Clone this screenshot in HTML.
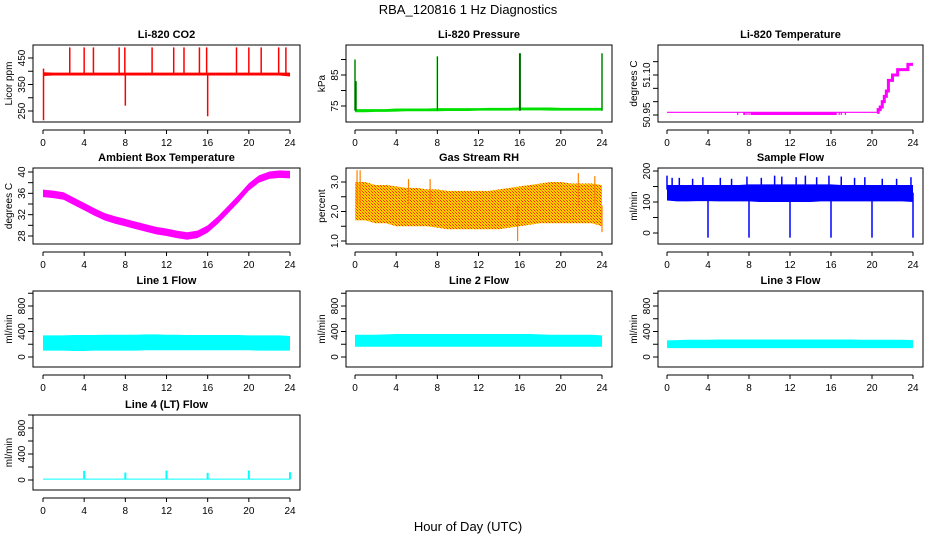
<!DOCTYPE html>
<html><head><meta charset="utf-8"><style>
html,body{margin:0;padding:0;background:#fff;}
svg{display:block;font-family:"Liberation Sans",sans-serif;}
</style></head><body>
<svg id="chart" width="936" height="540" viewBox="0 0 936 540">
<defs>
<pattern id="rhpat" width="3" height="3" patternUnits="userSpaceOnUse">
<rect width="3" height="3" fill="#ffd000"/><rect x="0" y="0" width="1" height="1" fill="#ff2000"/><rect x="2" y="2" width="1" height="1" fill="#ff4000"/><rect x="1" y="1" width="1" height="1" fill="#ff9000"/>
</pattern>
</defs>
<text x="468" y="14" text-anchor="middle" font-size="13">RBA_120816  1 Hz Diagnostics</text>
<text x="468" y="531" text-anchor="middle" font-size="13">Hour of Day (UTC)</text>
</svg>
<script>
// ---- data ----
const xTicks = [0,4,8,12,16,20,24];
const hours = [0,1,2,3,4,5,6,7,8,9,10,11,12,13,14,15,16,17,18,19,20,21,22,23,24];

const co2Low  = [382,384,384,384,384,384,384,384,384,384,384,384,384,384,384,384,384,384,384,384,384,384,384,384,380];
const co2High = [396,395,395,395,395,395,395,395,395,395,395,395,395,395,395,395,395,395,395,395,395,395,395,395,395];
const co2SpikeHours = [0.05,0.05,2.6,4,4.9,7.4,7.95,8,10.6,12.7,13.7,15.2,15.9,16,18.8,20,21.2,22.9,23.6];
const co2SpikeVals  = [215,410,490,490,490,490,490,270,490,490,490,490,490,230,490,490,490,490,490];

const presLow  = [73.0,73.0,73.1,73.1,73.2,73.3,73.3,73.3,73.3,73.4,73.4,73.4,73.5,73.5,73.5,73.5,73.6,73.6,73.6,73.5,73.5,73.5,73.5,73.5,73.5];
const presHigh = [74.0,74.0,74.0,74.0,74.2,74.2,74.2,74.2,74.3,74.3,74.3,74.3,74.3,74.4,74.4,74.4,74.5,74.5,74.5,74.5,74.4,74.4,74.4,74.4,74.4];
const presSpikeHours = [0,0.1,8,16,16.05,24];
const presSpikeVals  = [90,83,91,92,92,92];

const tempStepHours = [0,20.5,20.6,20.8,21.0,21.2,21.4,21.6,22.0,22.5,23.0,23.5,24];
const tempStepVals  = [50.96,50.96,50.97,50.98,51.00,51.02,51.04,51.08,51.10,51.12,51.12,51.14,51.14];
const tempDipHours = [6.9,7.5,7.6,7.8,8.0,8.2,9,10,11,12,13,14,15,16,16.5,16.8,17.0,17.4];
const tempDipVals  = [50.95,50.95,50.95,50.95,50.95,50.95,50.95,50.95,50.95,50.95,50.95,50.95,50.95,50.95,50.95,50.95,50.95,50.95];

const ambMid = [36,35.8,35.5,34.5,33.5,32.5,31.6,31,30.5,30,29.5,29,28.7,28.3,28,28.3,29.3,31,33,35,37.2,38.7,39.4,39.6,39.5];

const rhLow  = [1.7,1.7,1.6,1.6,1.5,1.5,1.5,1.5,1.45,1.4,1.4,1.4,1.4,1.4,1.4,1.45,1.5,1.55,1.6,1.6,1.6,1.6,1.6,1.6,1.5];
const rhHigh = [3.0,3.0,2.9,2.9,2.85,2.8,2.8,2.75,2.75,2.7,2.7,2.7,2.7,2.7,2.75,2.8,2.85,2.9,2.95,3.0,3.0,2.95,2.95,2.95,2.9];
const rhSpikeHours = [0.2,0.5,5.2,7.3,15.8,21.7,23.3,24];
const rhSpikeVals  = [3.4,3.4,3.1,3.1,1.0,3.3,3.2,1.3];

const sfLow  = [105,102,102,103,103,102,102,102,102,100,100,100,100,100,100,102,102,102,102,102,102,102,102,102,100];
const sfHigh = [155,155,155,155,155,155,155,155,157,157,157,157,157,157,157,157,157,155,155,155,155,155,155,155,155];
const sfSpikeHours = [0,0.5,1.2,2.5,3.5,5.2,6.3,7.8,9.2,10.5,11.2,12.6,13.5,14.6,15.8,17,18.3,19.3,21,22.4,23.8];
const sfSpikeVals  = [185,178,178,175,180,178,175,182,178,185,182,180,185,180,185,182,178,180,175,175,180];
const sfDipHours = [4,8,12,16,20,24];
const sfDipVals  = [-15,-15,-15,-15,-15,-15];

const l1Low  = [100,100,100,95,95,100,100,100,100,100,105,105,105,105,105,105,105,105,105,105,105,100,100,100,100];
const l1High = [340,340,340,345,345,345,350,350,350,350,355,355,350,350,345,345,345,345,345,345,340,340,340,340,330];
const l2Low  = [160,160,160,160,160,160,160,160,160,160,160,160,160,160,160,160,160,160,160,160,160,160,160,160,160];
const l2High = [350,350,350,355,360,360,360,360,360,360,360,360,360,360,360,360,360,360,355,350,350,350,350,350,340];
const l3Low  = [140,140,140,140,140,140,140,140,140,140,140,140,140,140,140,140,140,140,140,140,140,140,140,140,140];
const l3High = [260,265,270,270,270,275,275,275,275,275,275,275,275,275,275,275,275,275,275,270,270,270,270,270,265];
const l4Low  = [5,5,5,5,5,5,5,5,5,5,5,5,5,5,5,5,5,5,5,5,5,5,5,5,5];
const l4High = [22,22,22,22,22,22,22,22,22,22,22,22,22,22,22,22,22,22,22,22,22,22,22,22,22];
const l4SpikeHours = [4,8,12,16,20,24];
const l4SpikeVals  = [140,115,145,110,145,120];

// ---- layout ----
const NS = "http://www.w3.org/2000/svg";
const svg = document.getElementById('chart');
const cols = [{l:33,r:300,x0:43,x1:290},{l:346,r:612,x0:355,x1:602},{l:658,r:923,x0:667,x1:913}];
const rows = [{t:45,b:122},{t:168,b:244},{t:291,b:367},{t:415,b:490}];

function el(tag, attrs, parent){const e=document.createElementNS(NS,tag);for(const k in attrs)e.setAttribute(k,attrs[k]);(parent||svg).appendChild(e);return e;}

function makePanel(name, ci, ri, title, ylab, v1, p1, v2, p2, ticks, labels){
  const c=cols[ci], r=rows[ri];
  const g=el('g',{});
  
  
  const xs=h=>c.x0+(c.x1-c.x0)*h/24;
  const ys=v=>p1+(v-v1)*(p2-p1)/(v2-v1);
  const box=el('rect',{x:c.l,y:r.t,width:c.r-c.l,height:r.b-r.t,fill:'none',stroke:'#000','stroke-width':1},g);
  
  
  const t=el('text',{x:(c.l+c.r)/2,y:r.t-7,'text-anchor':'middle','font-size':11,'font-weight':'bold'},g);
  t.textContent=title;
  
  
  const ax=el('g',{},g);
  
  
  const ay=r.b+8;
  el('line',{x1:xs(0),x2:xs(24),y1:ay,y2:ay,stroke:'#000'},ax);
  xTicks.forEach(h=>{
    el('line',{x1:xs(h),x2:xs(h),y1:ay,y2:ay+4,stroke:'#000'},ax);
    const tx=el('text',{x:xs(h),y:ay+16,'text-anchor':'middle','font-size':10},ax);
    tx.textContent=h;
  });
  const yx=c.l;
  const yg=el('g',{},g);
  
  
  ticks.forEach(v=>{el('line',{x1:yx-5,x2:yx,y1:ys(v),y2:ys(v),stroke:'#000'},yg);});
  labels.forEach(v=>{
    const y=ys(parseFloat(v));
    const lx=c.l-8;
    const tx=el('text',{x:lx,y:y,'text-anchor':'middle','font-size':10,transform:`rotate(-90 ${lx} ${y})`},yg);
    tx.textContent=v;
  });
  const qx=c.l-21, qy=(r.t+r.b)/2;
  const yl=el('text',{x:qx,y:qy,'text-anchor':'middle','font-size':10,transform:`rotate(-90 ${qx} ${qy})`},g);
  yl.textContent=ylab;
  
  
  return {g,xs,ys};
}
function band(p, name, hs, lo, hi, fill){
  let d='M'+hs.map((h,i)=>p.xs(h)+','+p.ys(hi[i])).join('L');
  for(let i=hs.length-1;i>=0;i--) d+='L'+p.xs(hs[i])+','+p.ys(lo[i]);
  const e=el('path',{d:d+'Z',fill:fill,stroke:'none'},p.g);
  
  
}
function spikes(p, name, hs, vs, base, color, w){
  hs.forEach((h,i)=>{
    const e=el('line',{x1:p.xs(h),x2:p.xs(h),y1:p.ys(base[i]),y2:p.ys(vs[i]),stroke:color,'stroke-width':w||1.5},p.g);
    
    
  });
}

// CO2
let p=makePanel('co2',0,0,'Li-820 CO2','Licor ppm',450,58,250,111,[250,300,350,400,450],['250','350','450']);
band(p,'co2-band',hours,co2Low,co2High,'#ff0000');
spikes(p,'co2-spike',co2SpikeHours,co2SpikeVals,co2SpikeHours.map(h=>390),'#ff0000',1.5);

// Pressure
p=makePanel('pressure',1,0,'Li-820 Pressure','kPa',85,75,75,106,[75,80,85,90],['75','85']);
band(p,'pressure-band',hours,presLow,presHigh,'#00e000');
spikes(p,'pressure-spike',presSpikeHours,presSpikeVals,presSpikeHours.map(h=>73.5),'#00cc00',1.5);
spikes(p,'pressure-spike-dots',presSpikeHours,presSpikeVals,presSpikeHours.map(h=>73.5),'#000',0.5);

// Li-820 temperature
p=makePanel('li820-temp',2,0,'Li-820 Temperature','degrees C',51.10,75,50.95,115,[50.95,51.00,51.05,51.10,51.15],['50.95','51.10']);
spikes(p,'li820-temp-dip',tempDipHours,tempDipVals,tempDipHours.map(h=>50.96),'#ff00ff',1.2);
band(p,'li820-temp-dip-band',[8.2,16.5],[50.95,50.95],[50.96,50.96],'#ff00ff');
{
  let d='M'+p.xs(tempStepHours[0])+','+p.ys(tempStepVals[0]);
  for(let i=1;i<tempStepHours.length;i++){d+='H'+p.xs(tempStepHours[i])+'V'+p.ys(tempStepVals[i]);}
  const e=el('path',{d:d,fill:'none',stroke:'#ff00ff','stroke-width':1.2},p.g);
  
  
  let d2='M'+p.xs(tempStepHours[1])+','+p.ys(tempStepVals[1]);
  for(let i=2;i<tempStepHours.length;i++){d2+='H'+p.xs(tempStepHours[i])+'V'+p.ys(tempStepVals[i]);}
  const e2=el('path',{d:d2,fill:'none',stroke:'#ff00ff','stroke-width':3},p.g);
  
  
}

// Ambient
p=makePanel('ambient-temp',0,1,'Ambient Box Temperature','degrees C',40,172,28,236,[28,30,32,34,36,38,40],['28','32','36','40']);
band(p,'ambient-temp-band',hours,ambMid.map(v=>v-0.7),ambMid.map(v=>v+0.7),'#ff00ff');

// RH
p=makePanel('gas-rh',1,1,'Gas Stream RH','percent',3.0,182,1.0,241,[1.0,1.5,2.0,2.5,3.0],['1.0','2.0','3.0']);
band(p,'gas-rh-band',hours,rhLow,rhHigh,'url(#rhpat)');
spikes(p,'gas-rh-spike',rhSpikeHours,rhSpikeVals,rhSpikeHours.map(h=>2.2),'#ff8000',1.2);

// Sample flow
p=makePanel('sample-flow',2,1,'Sample Flow','ml/min',200,171,0,233,[0,50,100,150,200],['0','100','200']);
band(p,'sample-flow-band',hours,sfLow,sfHigh,'#0000ff');
spikes(p,'sample-flow-spike',sfSpikeHours,sfSpikeVals,sfSpikeHours.map(h=>140),'#0000ff',1.5);
spikes(p,'sample-flow-dip',sfDipHours,sfDipVals,sfDipHours.map(h=>130),'#0000ff',1.5);

// Line flows
const fTicks=[0,200,400,600,800,1000], fLabels=['0','400','800'];
p=makePanel('line1-flow',0,2,'Line 1 Flow','ml/min',800,306,0,357,fTicks,fLabels);
band(p,'line1-flow-band',hours,l1Low,l1High,'#00ffff');
p=makePanel('line2-flow',1,2,'Line 2 Flow','ml/min',800,306,0,357,fTicks,fLabels);
band(p,'line2-flow-band',hours,l2Low,l2High,'#00ffff');
p=makePanel('line3-flow',2,2,'Line 3 Flow','ml/min',800,306,0,357,fTicks,fLabels);
band(p,'line3-flow-band',hours,l3Low,l3High,'#00ffff');
p=makePanel('line4-flow',0,3,'Line 4 (LT) Flow','ml/min',800,428,0,480,fTicks,fLabels);
band(p,'line4-flow-band',hours,l4Low,l4High,'#00ffff');
spikes(p,'line4-flow-spike',l4SpikeHours,l4SpikeVals,l4SpikeHours.map(h=>10),'#00ffff',2);
</script>
</body></html>
